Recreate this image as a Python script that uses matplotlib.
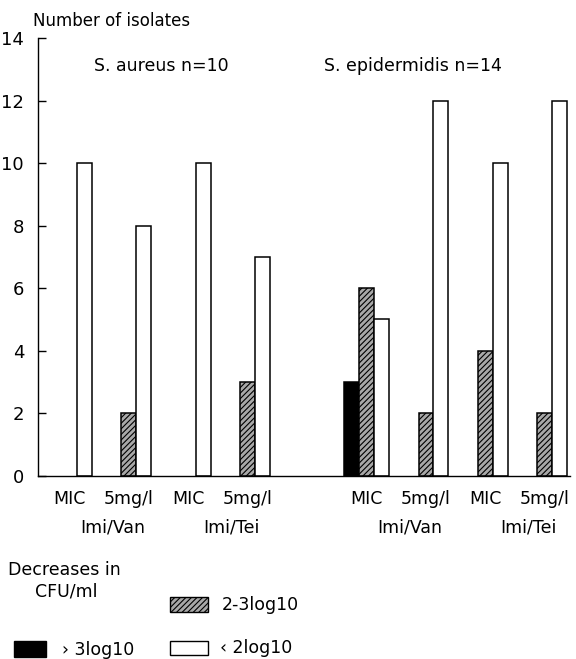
import numpy as np
import matplotlib
matplotlib.use("Agg")
from matplotlib import pyplot as plt
from matplotlib.patches import Rectangle

# --- Données ---
tick_labels = ["MIC", "5mg/l", "MIC", "5mg/l", "MIC", "5mg/l", "MIC", "5mg/l"]
combo_labels = ["Imi/Van", "Imi/Tei", "Imi/Van", "Imi/Tei"]
species_labels = ["S. aureus n=10", "S. epidermidis n=14"]
sup_3log = [0, 0, 0, 0, 3, 0, 0, 0]      # > 3log10
de_2_3log = [0, 2, 0, 3, 6, 2, 4, 2]     # 2-3log10
inf_2log = [10, 8, 10, 7, 5, 12, 10, 12] # < 2log10

plt.rcParams['font.family'] = ['DejaVu Sans']
plt.rcParams['hatch.linewidth'] = 0.8
plt.rcParams['hatch.color'] = '#2a2a2a'

W, H = 576, 659
fig = plt.figure(figsize=(W / 100, H / 100), dpi=100)
ax = fig.add_axes([38 / W, (H - 475.7) / H, 532 / W, 437.4 / H])

# position des sous-groupes (écart plus grand entre les deux espèces)
centres = np.array([0, 4, 8, 12, 20, 24, 28, 32])

def barres(valeurs, decal, **style):
    v = np.array(valeurs)
    m = v > 0
    ax.bar(centres[m] + decal, v[m], width=1.0, edgecolor='black', linewidth=1.1, **style)

barres(sup_3log, -1, color='black')
barres(de_2_3log, 0, color='#a8a8a8', hatch='//////')
barres(inf_2log, 1, color='white')

ax.set_xlim(-2.12, 33.7)
ax.set_ylim(0, 14)
ax.set_yticks(range(0, 15, 2))
ax.tick_params(axis='y', direction='in', length=6, width=1, pad=10, labelsize=13)
ax.set_xticks(centres)
ax.set_xticklabels(tick_labels, fontsize=12.5)
ax.tick_params(axis='x', length=0, pad=10)
for s in ['top', 'right']:
    ax.spines[s].set_visible(False)
ax.spines['left'].set_linewidth(1)
ax.spines['bottom'].set_linewidth(1)

# étiquettes des combinaisons
paires = [(centres[2 * i] + centres[2 * i + 1]) / 2 + 0.9 for i in range(4)]
for x, lab in zip(paires, combo_labels):
    ax.text(x, -1.65, lab, ha='center', va='center', fontsize=12.5)

# titres des espèces
ax.text(6.2, 13.1, species_labels[0], ha='center', va='center', fontsize=12.5)
ax.text(23.1, 13.1, species_labels[1], ha='center', va='center', fontsize=12.5)

fig.text(33 / W, 1 - 21 / H, "Number of isolates", ha='left', va='center', fontsize=12)

# légende
fig.text(8 / W, 1 - 570 / H, "Decreases in", ha='left', va='center', fontsize=12.5)
fig.text(66 / W, 1 - 592 / H, "CFU/ml", ha='center', va='center', fontsize=12.5)

def carre(x0, y0, w, h, **style):
    fig.add_artist(Rectangle((x0 / W, 1 - (y0 + h) / H), w / W, h / H,
                             transform=fig.transFigure, edgecolor='black', linewidth=1, **style))

carre(170, 597, 38, 15, facecolor='#a8a8a8', hatch='//////')
carre(14, 641, 32, 16, facecolor='black')
carre(170, 641, 38, 14, facecolor='white')
fig.text(222 / W, 1 - 605 / H, "2-3log10", ha='left', va='center', fontsize=12.5)
fig.text(62 / W, 1 - 650 / H, "\u203a 3log10", ha='left', va='center', fontsize=12.5)
fig.text(220 / W, 1 - 648 / H, "\u2039 2log10", ha='left', va='center', fontsize=12.5)

fig.savefig("out.png", dpi=100)
plt.close()
